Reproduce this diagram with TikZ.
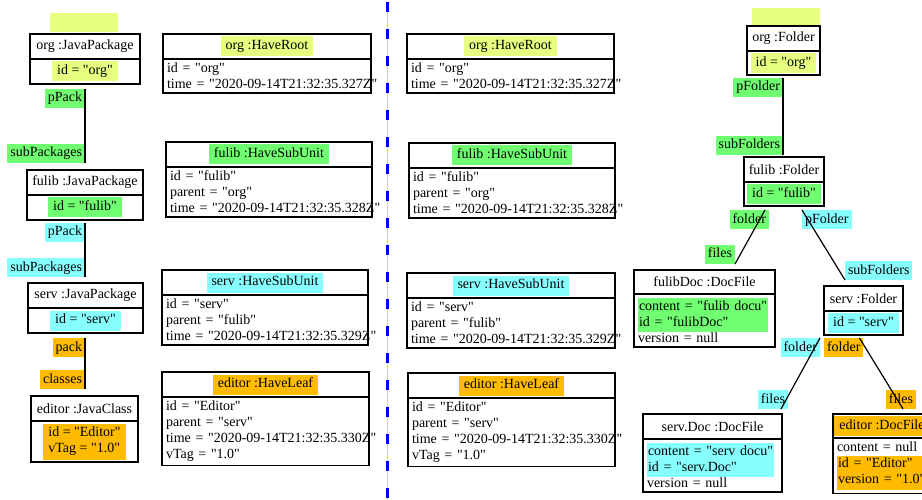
\documentclass[tikz,border=0pt]{standalone}
\usepackage{fontspec}
\setmainfont{Liberation Serif}[Ligatures=TeXOff]
\usepackage{xcolor}
\usepackage{tikz}
\usetikzlibrary{positioning}

\definecolor{hlyel}{HTML}{E6FF80}
\definecolor{hlgrn}{HTML}{70FF70}
\definecolor{hlcyn}{HTML}{88FFFF}
\definecolor{hlorg}{HTML}{FFBB00}

\newcommand{\hl}[2]{{\setlength{\fboxsep}{2pt}\colorbox{#1}{\begin{tabular}{@{\hspace{3pt}}l@{\hspace{3pt}}}#2\end{tabular}}}}
\newcommand{\hlb}[2]{{\setlength{\fboxsep}{1pt}\colorbox{#1}{\begin{tabular}[t]{@{}l@{}}#2\end{tabular}}}}

\begin{document}
\begin{tikzpicture}
      [x=1pt, y=-1pt,
       every node/.style={font=\fontsize{14}{16}\selectfont, outer sep=0pt},
       head/.style={draw, line width=1.5pt, anchor=north west, minimum height=25pt, inner sep=0pt},
       body/.style={draw, line width=1.5pt, align=left, inner sep=4pt},
       bodyc/.style={draw, line width=1.5pt, align=center, minimum height=25pt, inner sep=0pt},
       role/.style={anchor=north east, inner xsep=3pt, inner ysep=2pt, text height=11pt, text depth=4pt},
       link/.style={line width=1.2pt},
       blank/.style={fill=hlyel, anchor=north west, minimum width=68pt, minimum height=19pt, inner sep=0pt}]
    \useasboundingbox (0,0) rectangle (922,500);
    \clip (0,0) rectangle (922,500);

    % java packages
    \node[blank] (pkgTop) at (50,13) {};
    \node[head, minimum width=110pt] (orgPkg) at (30,34) {org :JavaPackage};
    \node[bodyc, minimum width=110pt, below=0pt of orgPkg] (orgPkgB) {\hl{hlyel}{id = "org"}};
    \node[role, fill=hlgrn] (orgUp) at (85,89) {pPack};
    \node[role, fill=hlgrn] (fulibDown) at (85,144) {subPackages};
    \node[head, minimum width=116pt] (fulibPkg) at (27,170) {fulib :JavaPackage};
    \node[bodyc, minimum width=116pt, below=0pt of fulibPkg] (fulibPkgB) {\hl{hlgrn}{id = "fulib"}};
    \node[role, fill=hlcyn] (fulibUp) at (85,223) {pPack};
    \node[role, fill=hlcyn] (servDown) at (85,258) {subPackages};
    \node[head, minimum width=115pt] (servPkg) at (28,283) {serv :JavaPackage};
    \node[bodyc, minimum width=115pt, below=0pt of servPkg] (servPkgB) {\hl{hlcyn}{id = "serv"}};
    \node[role, fill=hlorg] (servUp) at (85,338) {pack};
    \node[role, fill=hlorg] (editorDown) at (85,370) {classes};
    \node[head, minimum width=107pt] (editorCls) at (31,396) {editor :JavaClass};
    \node[bodyc, minimum width=107pt, minimum height=41pt, below=0pt of editorCls] (editorClsB)
        {\hl{hlorg}{id = "Editor"\\ vTag = "1.0"}};

    \draw[link] (orgUp.north east) -- (fulibDown.south east);
    \draw[link] (fulibUp.north east) -- (servDown.south east);
    \draw[link] (servUp.north east) -- (editorDown.south east);

    % events, left copy
    \node[head, minimum width=208pt] (rootL) at (163,34) {\hl{hlyel}{org :HaveRoot}};
    \node[body, text width=200pt, below=0pt of rootL] (rootLb)
        {id = "org"\\ \mbox{time = "2020-09-14T21:32:35.327Z"}};
    \node[head, minimum width=206pt] (fulibL) at (166,142) {\hl{hlgrn}{fulib :HaveSubUnit}};
    \node[body, text width=198pt, below=0pt of fulibL] (fulibLb)
        {id = "fulib"\\ parent = "org"\\ \mbox{time = "2020-09-14T21:32:35.328Z"}};
    \node[head, minimum width=206pt] (servL) at (162,270) {\hl{hlcyn}{serv :HaveSubUnit}};
    \node[body, text width=198pt, below=0pt of servL] (servLb)
        {id = "serv"\\ parent = "fulib"\\ \mbox{time = "2020-09-14T21:32:35.329Z"}};
    \node[head, minimum width=207pt] (leafL) at (162,372) {\hl{hlorg}{editor :HaveLeaf}};
    \node[body, text width=199pt, below=0pt of leafL] (leafLb)
        {id = "Editor"\\ parent = "serv"\\ \mbox{time = "2020-09-14T21:32:35.330Z"}\\ vTag = "1.0"};

    % split line
    \coordinate (splitTop) at (387,2);
    \coordinate (splitBot) at (387,500);
    \draw[gray!40, line width=0.6pt] (splitTop) -- (splitBot);
    \draw[blue, line width=3pt, dash pattern=on 10pt off 17pt] (splitTop) -- (splitBot);

    % events, right copy
    \node[head, minimum width=207pt] (rootR) at (407,34) {\hl{hlyel}{org :HaveRoot}};
    \node[body, text width=199pt, below=0pt of rootR] (rootRb)
        {id = "org"\\ \mbox{time = "2020-09-14T21:32:35.327Z"}};
    \node[head, minimum width=206pt] (fulibR) at (409,143) {\hl{hlgrn}{fulib :HaveSubUnit}};
    \node[body, text width=198pt, below=0pt of fulibR] (fulibRb)
        {id = "fulib"\\ parent = "org"\\ \mbox{time = "2020-09-14T21:32:35.328Z"}};
    \node[head, minimum width=208pt] (servR) at (407,273) {\hl{hlcyn}{serv :HaveSubUnit}};
    \node[body, text width=200pt, below=0pt of servR] (servRb)
        {id = "serv"\\ parent = "fulib"\\ \mbox{time = "2020-09-14T21:32:35.329Z"}};
    \node[head, minimum width=207pt] (leafR) at (408,373) {\hl{hlorg}{editor :HaveLeaf}};
    \node[body, text width=199pt, below=0pt of leafR] (leafRb)
        {id = "Editor"\\ parent = "serv"\\ \mbox{time = "2020-09-14T21:32:35.330Z"}\\ vTag = "1.0"};

    % folders and files
    \node[blank, minimum height=17pt] (folderTop) at (752,8) {};
    \node[head, minimum width=73pt] (orgFld) at (747,26) {org :Folder};
    \node[bodyc, minimum width=73pt, minimum height=24pt, below=0pt of orgFld] (orgFldB) {\hl{hlyel}{id = "org"}};
    \node[role, fill=hlgrn] (orgFUp) at (783,78) {pFolder};
    \node[role, fill=hlgrn] (fulibFDown) at (783,136) {subFolders};
    \node[head, minimum width=80pt] (fulibFld) at (744,157) {fulib :Folder};
    \node[bodyc, minimum width=80pt, minimum height=24pt, below=0pt of fulibFld] (fulibFldB) {\hl{hlgrn}{id = "fulib"}};
    \node[role, fill=hlgrn] (fulibFiles) at (769,210) {folder};
    \node[role, fill=hlcyn, anchor=north west] (fulibFUp) at (802,210) {pFolder};
    \node[role, fill=hlgrn] (docAUp) at (735,245) {files};
    \node[role, fill=hlcyn, anchor=north west] (servFDown) at (845,261) {subFolders};
    \node[head, minimum width=141pt, minimum height=24pt] (docA) at (634,270) {fulibDoc :DocFile};
    \node[body, text width=133pt, below=0pt of docA] (docAB)
        {\hlb{hlgrn}{content = "fulib docu"\\ id = "fulibDoc"}\\ version = null};
    \node[head, minimum width=79pt] (servFld) at (824,286) {serv :Folder};
    \node[bodyc, minimum width=79pt, minimum height=24pt, below=0pt of servFld] (servFldB) {\hl{hlcyn}{id = "serv"}};
    \node[role, fill=hlcyn] (servFilesA) at (820,338) {folder};
    \node[role, fill=hlorg, anchor=north west] (servFilesB) at (824,338) {folder};
    \node[role, fill=hlcyn] (docBUp) at (788,390) {files};
    \node[role, fill=hlorg] (docCUp) at (916,390) {files};
    \node[head, minimum width=139pt] (docB) at (643,414) {serv.Doc :DocFile};
    \node[body, text width=131pt, below=0pt of docB] (docBB)
        {\hlb{hlcyn}{content = "serv docu"\\ id = "serv.Doc"}\\ version = null};
    \node[head, minimum width=98pt, minimum height=24pt] (docC) at (833,414) {\hl{hlorg}{editor :DocFile}};
    \node[body, text width=90pt, below=0pt of docC] (docCB)
        {content = null\\ \hlb{hlorg}{id = "Editor"\\ version = "1.0"}};

    \draw[link] (orgFUp.north east) -- (fulibFDown.south east);
    \draw[link] ([xshift=-4pt]fulibFiles.north east) -- (docAUp.south east);
    \draw[link] (fulibFUp.north west) -- (servFDown.south west);
    \draw[link] (servFilesA.north east) -- ([xshift=-7pt]docBUp.south east);
    \draw[link] ([xshift=-4pt]servFilesB.north east) -- ([xshift=-13pt]docCUp.south east);
\end{tikzpicture}
\end{document}
